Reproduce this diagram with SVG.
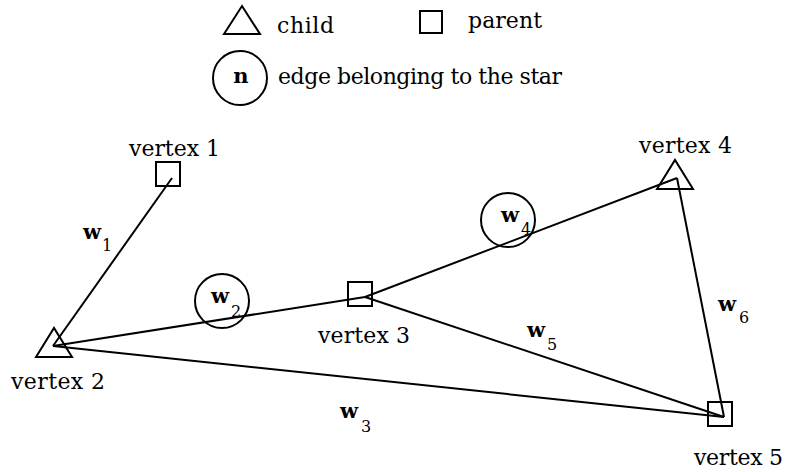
<svg xmlns="http://www.w3.org/2000/svg" width="786" height="472" viewBox="0 0 786 472">
<style>
.s{fill:none;stroke:#000;stroke-width:2}
text{font-family:'DejaVu Serif',serif;fill:#000}
.t{font-size:22px}
.w{font-size:21px;font-weight:bold}
.sub{font-size:16px}
</style>
<rect width="786" height="472" fill="#fff"/>
<g id="legend">
<polygon class="s" points="224,34 242,6 260,34"/>
<text class="t" x="277" y="33" textLength="57">child</text>
<rect class="s" x="420" y="11" width="22" height="22"/>
<text class="t" x="468" y="28" textLength="74">parent</text>
<circle class="s" cx="240" cy="78" r="27"/>
<text class="w" x="241" y="83" text-anchor="middle">n</text>
<text class="t" x="278" y="84" textLength="284">edge belonging to the star</text>
</g>
<g id="connectors">
<line class="s" x1="172" y1="178" x2="53" y2="346"/>
<line class="s" x1="53" y1="346" x2="365" y2="297"/>
<line class="s" x1="53" y1="346" x2="724" y2="417"/>
<line class="s" x1="365" y1="297" x2="677" y2="178"/>
<line class="s" x1="365" y1="297" x2="724" y2="417"/>
<line class="s" x1="677" y1="178" x2="724" y2="417"/>
</g>
<g id="w1"><text class="w" x="83" y="239">w</text><text class="sub" x="102" y="251">1</text></g>
<g id="w2"><circle class="s" cx="222" cy="301" r="27"/><text class="w" x="211" y="303">w</text><text class="sub" x="231" y="317">2</text></g>
<g id="w3"><text class="w" x="340" y="418">w</text><text class="sub" x="361" y="432">3</text></g>
<g id="w4"><circle class="s" cx="508" cy="220" r="27"/><text class="w" x="501" y="222">w</text><text class="sub" x="521" y="235">4</text></g>
<g id="w5"><text class="w" x="527" y="337">w</text><text class="sub" x="547" y="350">5</text></g>
<g id="w6"><text class="w" x="718" y="311">w</text><text class="sub" x="739" y="323">6</text></g>
<g id="vertex1"><rect class="s" x="156" y="162" width="24" height="24"/><text class="t" x="129" y="156" textLength="91">vertex 1</text></g>
<g id="vertex2"><polygon class="s" points="36,357 54,328 72,357"/><text class="t" x="11" y="389" textLength="94">vertex 2</text></g>
<g id="vertex3"><rect class="s" x="348" y="282" width="24" height="24"/><text class="t" x="318" y="343" textLength="92">vertex 3</text></g>
<g id="vertex4"><polygon class="s" points="657,189 675,160 693,189"/><text class="t" x="639" y="153" textLength="93">vertex 4</text></g>
<g id="vertex5"><rect class="s" x="708" y="402" width="24" height="24"/><text class="t" x="694" y="465" textLength="89">vertex 5</text></g>
</svg>
